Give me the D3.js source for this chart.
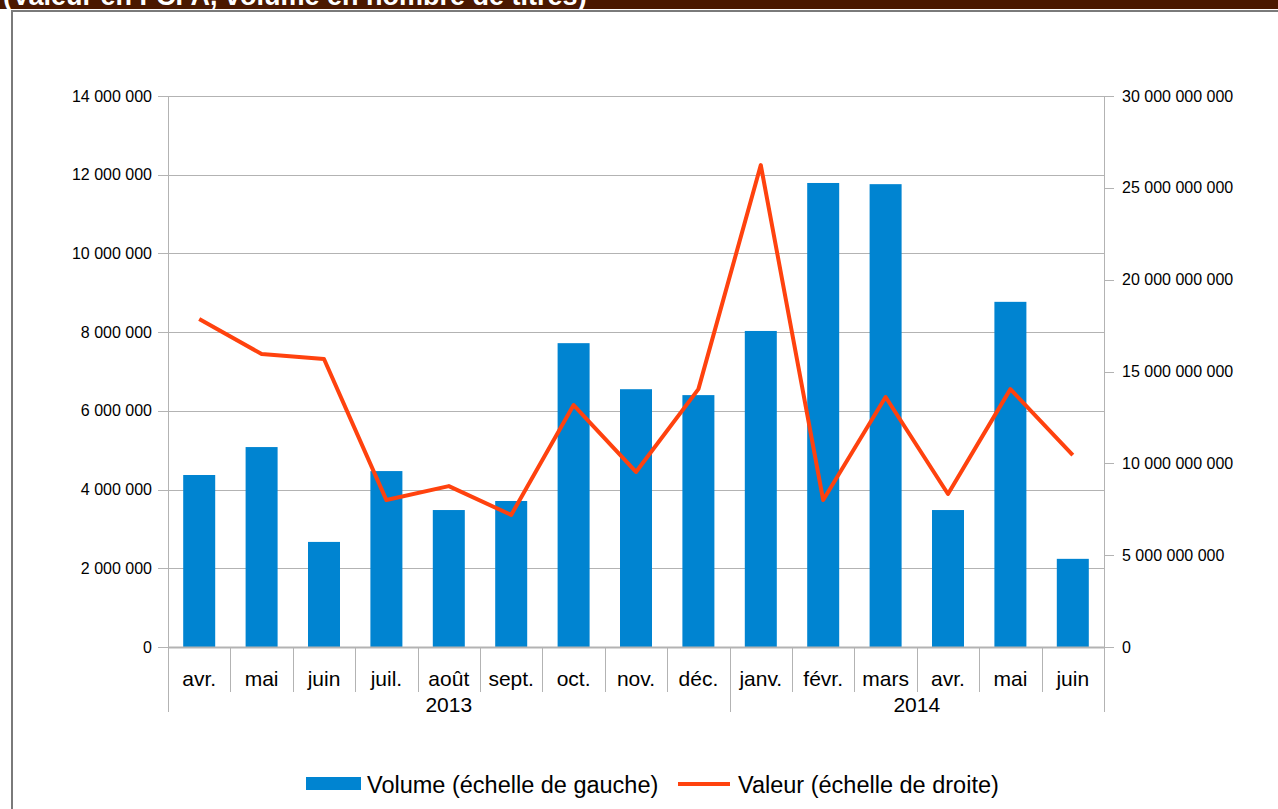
<!DOCTYPE html>
<html><head><meta charset="utf-8">
<script src="https://cdn.jsdelivr.net/npm/d3@7"></script>
<style>body{margin:0;background:#fff}svg{display:block;font-family:"Liberation Sans",Arial,sans-serif}</style>
</head><body>
<svg id="c" width="1278" height="809"></svg>
<script>
const months = ["avr.","mai","juin","juil.","août","sept.","oct.","nov.","déc.","janv.","févr.","mars","avr.","mai","juin"];
const years = [{label:"2013", from:0, to:9},{label:"2014", from:9, to:15}];
const volume = [4370000,5080000,2670000,4470000,3480000,3710000,7720000,6550000,6400000,8030000,11790000,11760000,3480000,8770000,2240000];
const valeur = [17860000000,15950000000,15680000000,8000000000,8760000000,7190000000,13170000000,9530000000,14040000000,26240000000,8000000000,13610000000,8330000000,14040000000,10450000000];
const leftTicks = [0,2000000,4000000,6000000,8000000,10000000,12000000,14000000];
const rightTicks = [0,5000000000,10000000000,15000000000,20000000000,25000000000,30000000000];
const titleText = "(Valeur en FCFA, volume en nombre de titres)";
const legendLabels = ["Volume (échelle de gauche)","Valeur (échelle de droite)"];

const svg = d3.select("#c");
const W = 1278, H = 809;
const m = {l:168, r:1104, t:96, b:647};
const grid = "#b3b3b3";
const fmt = v => d3.format(",")(v).replace(/,/g," ");

// header band
svg.append("rect").attr("x",0).attr("y",0).attr("width",W).attr("height",9).attr("fill","#4a1800");
svg.append("text").attr("x",3).attr("y",5).attr("fill","#fff").attr("font-weight","bold").attr("font-size",27).text(titleText);
svg.append("rect").attr("x",0).attr("y",9).attr("width",W).attr("height",1).attr("fill","#fff");
svg.append("rect").attr("x",12).attr("y",10).attr("width",W-12).attr("height",2).attr("fill","#7a7a7a");
svg.append("rect").attr("x",11).attr("y",10).attr("width",2).attr("height",H-10).attr("fill","#7a7a7a");

const x = d3.scaleBand().domain(d3.range(months.length)).range([m.l,m.r]).paddingInner(0).paddingOuter(0);
const yL = d3.scaleLinear().domain([0,14000000]).range([m.b,m.t]);
const yR = d3.scaleLinear().domain([0,30000000000]).range([m.b,m.t]);

// gridlines
svg.append("g").selectAll("line").data(leftTicks).join("line")
  .attr("x1",m.l-10).attr("x2",m.r).attr("y1",d=>Math.round(yL(d))+0.5).attr("y2",d=>Math.round(yL(d))+0.5)
  .attr("stroke",grid).attr("stroke-width",1);
svg.append("g").selectAll("line").data(rightTicks).join("line")
  .attr("x1",m.r).attr("x2",m.r+10).attr("y1",d=>Math.round(yR(d))+0.5).attr("y2",d=>Math.round(yR(d))+0.5)
  .attr("stroke",grid);
svg.append("line").attr("x1",m.l+0.5).attr("x2",m.l+0.5).attr("y1",m.t).attr("y2",m.b).attr("stroke",grid);
svg.append("line").attr("x1",m.r+0.5).attr("x2",m.r+0.5).attr("y1",m.t).attr("y2",m.b).attr("stroke",grid);

svg.append("g").selectAll("text").data(leftTicks).join("text")
  .attr("x",m.l-16).attr("y",d=>yL(d)).attr("dy","0.35em").attr("text-anchor","end")
  .attr("font-size",16).attr("fill","#000").text(fmt);
svg.append("g").selectAll("text").data(rightTicks).join("text")
  .attr("x",m.r+18).attr("y",d=>yR(d)).attr("dy","0.35em").attr("text-anchor","start")
  .attr("font-size",16).attr("fill","#000").text(fmt);

// bars
const bw = 32;
svg.append("g").selectAll("rect").data(volume).join("rect")
  .attr("x",(d,i)=>x(i)+x.bandwidth()/2-bw/2).attr("width",bw)
  .attr("y",d=>yL(d)).attr("height",d=>m.b-yL(d)).attr("fill","#0084d1");

// category separators
const seps = d3.range(months.length+1);
const yearBounds = new Set([0,9,15]);
svg.append("g").selectAll("line").data(seps).join("line")
  .attr("x1",i=>Math.round(i<months.length?x(i):m.r)+0.5).attr("x2",i=>Math.round(i<months.length?x(i):m.r)+0.5)
  .attr("y1",m.b).attr("y2",i=>yearBounds.has(i)?712:692).attr("stroke",grid);
svg.append("line").attr("x1",m.l).attr("x2",m.r).attr("y1",m.b+0.5).attr("y2",m.b+0.5).attr("stroke",grid).attr("stroke-width",2);

svg.append("g").selectAll("text").data(months).join("text")
  .attr("x",(d,i)=>x(i)+x.bandwidth()/2).attr("y",686).attr("text-anchor","middle")
  .attr("font-size",21).attr("fill","#000").text(d=>d);
svg.append("g").selectAll("text").data(years).join("text")
  .attr("x",d=>(x(d.from)+(d.to<months.length?x(d.to):m.r))/2).attr("y",712).attr("text-anchor","middle")
  .attr("font-size",21).attr("fill","#000").text(d=>d.label);

// line
const line = d3.line().x((d,i)=>x(i)+x.bandwidth()/2).y(d=>yR(d));
svg.append("path").datum(valeur).attr("d",line).attr("fill","none").attr("stroke","#ff420e")
  .attr("stroke-width",4).attr("stroke-linejoin","round");

// legend
const lg = svg.append("g");
lg.append("rect").attr("x",306).attr("y",777).attr("width",55).attr("height",13).attr("fill","#0084d1");
lg.append("text").attr("x",367).attr("y",793).attr("font-size",23.5).attr("fill","#000").text(legendLabels[0]);
lg.append("line").attr("x1",678).attr("x2",730).attr("y1",784).attr("y2",784).attr("stroke","#ff420e").attr("stroke-width",4);
lg.append("text").attr("x",738).attr("y",793).attr("font-size",23.5).attr("fill","#000").text(legendLabels[1]);
</script>
</body></html>
